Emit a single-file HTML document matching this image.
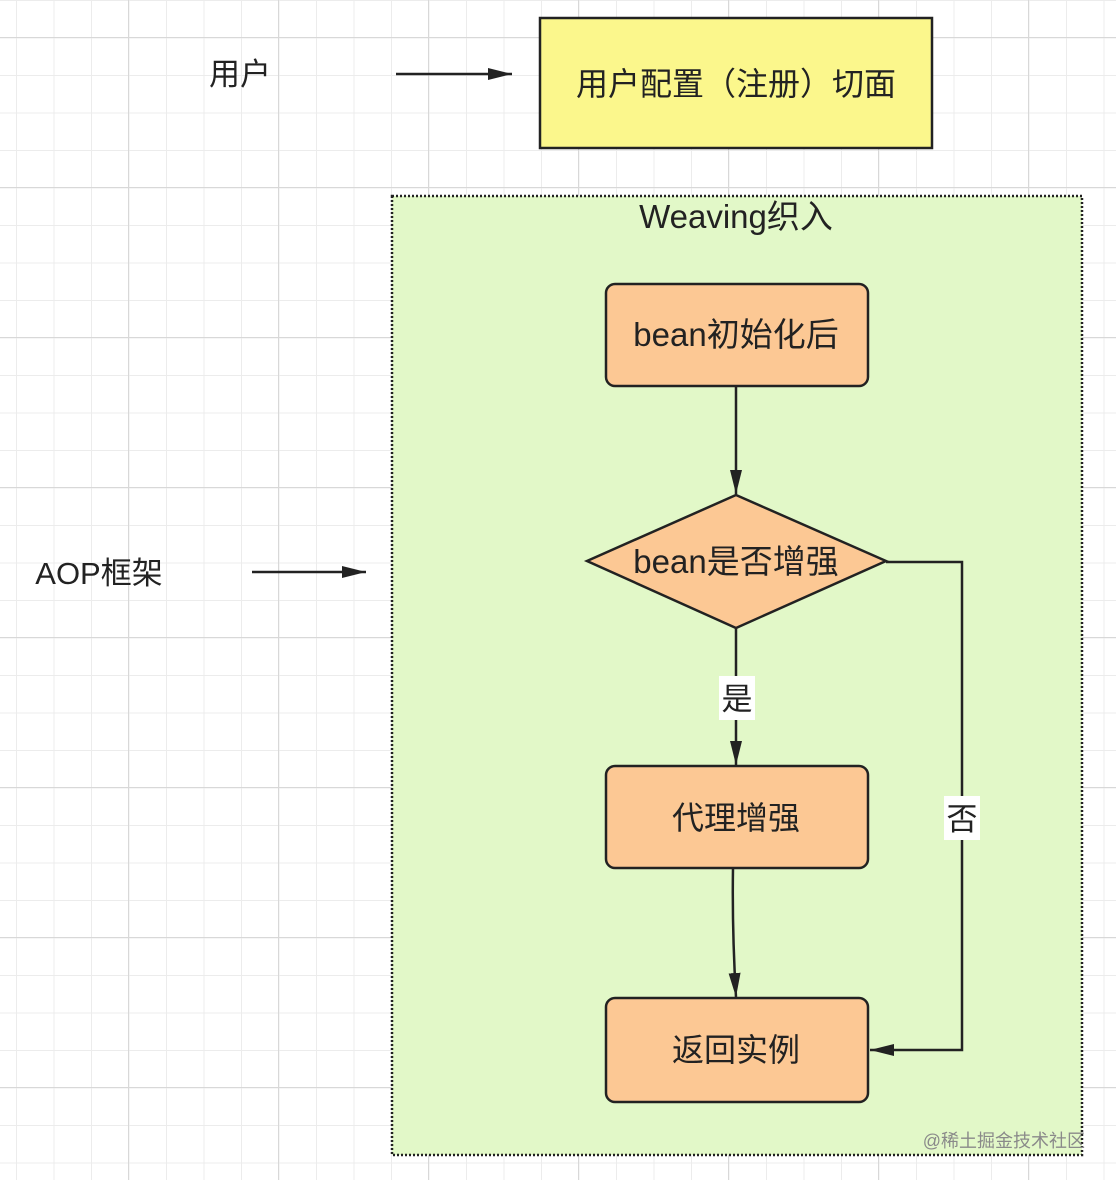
<!DOCTYPE html>
<html><head><meta charset="utf-8"><style>
html,body{margin:0;padding:0;}
body{width:1116px;height:1180px;overflow:hidden;background:#fff;
background-image:
linear-gradient(to right,#d8d8d8 1px,transparent 1px),
linear-gradient(to bottom,#d8d8d8 1px,transparent 1px),
linear-gradient(to right,#ececec 1px,transparent 1px),
linear-gradient(to bottom,#ececec 1px,transparent 1px);
background-size:150px 150px,150px 150px,37.5px 37.5px,37.5px 37.5px;
background-position:128px 37px,128px 37px,16px 0px,16px 0px;}
svg{position:absolute;left:0;top:0}
text{font-family:"Liberation Sans","Noto Sans CJK SC",sans-serif;fill:#222}
</style></head><body>
<svg width="1116" height="1180" viewBox="0 0 1116 1180">
<defs>
<marker id="b" viewBox="0 0 10 10" markerWidth="24" markerHeight="12" refX="10" refY="5" orient="auto" markerUnits="userSpaceOnUse" preserveAspectRatio="none"><path d="M0,0 L10,5 L0,10 Z" fill="#222"/></marker></defs>
<rect x="392" y="196" width="690" height="959" fill="#e2f8c8" stroke="#222" stroke-width="2.5" stroke-dasharray="2,2"/>
<rect x="540" y="18" width="392" height="130" fill="#fbf78c" stroke="#222" stroke-width="2.5"/>
<text x="736" y="95" font-size="32" text-anchor="middle">用户配置（注册）切面</text>
<text x="240" y="85" font-size="31" text-anchor="middle">用户</text>
<text x="99" y="584" font-size="31" text-anchor="middle">AOP框架</text>
<line x1="396" y1="74" x2="512" y2="74" stroke="#222" stroke-width="2.5" marker-end="url(#b)"/>
<line x1="252" y1="572" x2="366" y2="572" stroke="#222" stroke-width="2.5" marker-end="url(#b)"/>
<text x="736" y="228" font-size="33" text-anchor="middle">Weaving织入</text>
<rect x="606" y="284" width="262" height="102" rx="9" fill="#fcc894" stroke="#222" stroke-width="2.5"/>
<text x="736" y="346" font-size="33" text-anchor="middle">bean初始化后</text>
<line x1="736" y1="386" x2="736" y2="494" stroke="#222" stroke-width="2.5" marker-end="url(#b)"/>
<polygon points="736,495 886,561 736,628 587,561" fill="#fcc894" stroke="#222" stroke-width="2.5"/>
<text x="736" y="573" font-size="33" text-anchor="middle">bean是否增强</text>
<line x1="736" y1="628" x2="736" y2="765" stroke="#222" stroke-width="2.5" marker-end="url(#b)"/>
<rect x="719" y="676" width="36" height="44" fill="#fff"/>
<text x="737" y="710" font-size="31" text-anchor="middle">是</text>
<rect x="606" y="766" width="262" height="102" rx="9" fill="#fcc894" stroke="#222" stroke-width="2.5"/>
<text x="736" y="829" font-size="32" text-anchor="middle">代理增强</text>
<path d="M733,868 Q732,930 736,997" fill="none" stroke="#222" stroke-width="2.5" marker-end="url(#b)"/>
<rect x="606" y="998" width="262" height="104" rx="9" fill="#fcc894" stroke="#222" stroke-width="2.5"/>
<text x="736" y="1061" font-size="32" text-anchor="middle">返回实例</text>
<polyline points="886,562 962,562 962,1050 870,1050" fill="none" stroke="#222" stroke-width="2.5" marker-end="url(#b)"/>
<rect x="944" y="796" width="36" height="44" fill="#fff"/>
<text x="962" y="830" font-size="31" text-anchor="middle">否</text>
<text x="1085" y="1147" font-size="18" text-anchor="end" style="fill:#8a8a8a">@稀土掘金技术社区</text>
</svg>
</body></html>
